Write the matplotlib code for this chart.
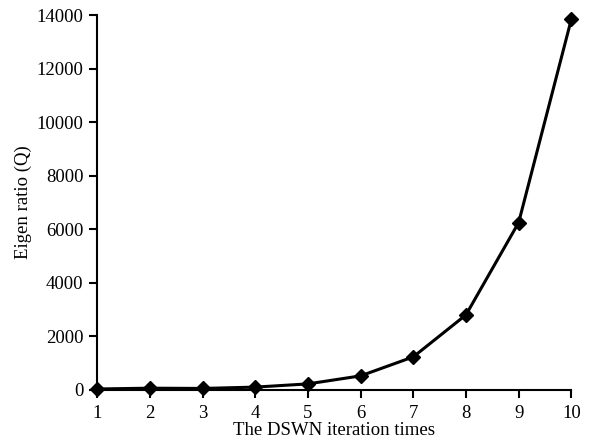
import matplotlib
matplotlib.use("Agg")
import matplotlib.pyplot as plt

# Data
iterations = [1, 2, 3, 4, 5, 6, 7, 8, 9, 10]
eigen_ratio = [30, 60, 50, 100, 220, 520, 1230, 2800, 6250, 13850]

y_ticks = [0, 2000, 4000, 6000, 8000, 10000, 12000, 14000]

plt.rcParams["font.family"] = ["Liberation Serif", "DejaVu Serif"]
plt.rcParams["font.size"] = 13.5

fig = plt.figure(figsize=(5.89, 4.47), dpi=100)
ax = fig.add_axes([0.165, 0.128, 0.805, 0.838])

ax.plot(iterations, eigen_ratio, color="black", linewidth=2.2,
        marker="D", markersize=7, clip_on=False, zorder=3)

ax.set_xlim(1, 10)
ax.set_ylim(0, 14000)
ax.set_xticks(iterations)
ax.set_yticks(y_ticks)

for side in ("top", "right"):
    ax.spines[side].set_visible(False)
for side in ("left", "bottom"):
    ax.spines[side].set_linewidth(1.5)

ax.tick_params(direction="out", length=6, width=1.5)
ax.tick_params(axis="x", pad=5)
ax.tick_params(axis="y", pad=4)

ax.set_xlabel("The DSWN iteration times", labelpad=0)
ax.set_ylabel("Eigen ratio (Q)", labelpad=3)

fig.savefig("out.png", dpi=100)
